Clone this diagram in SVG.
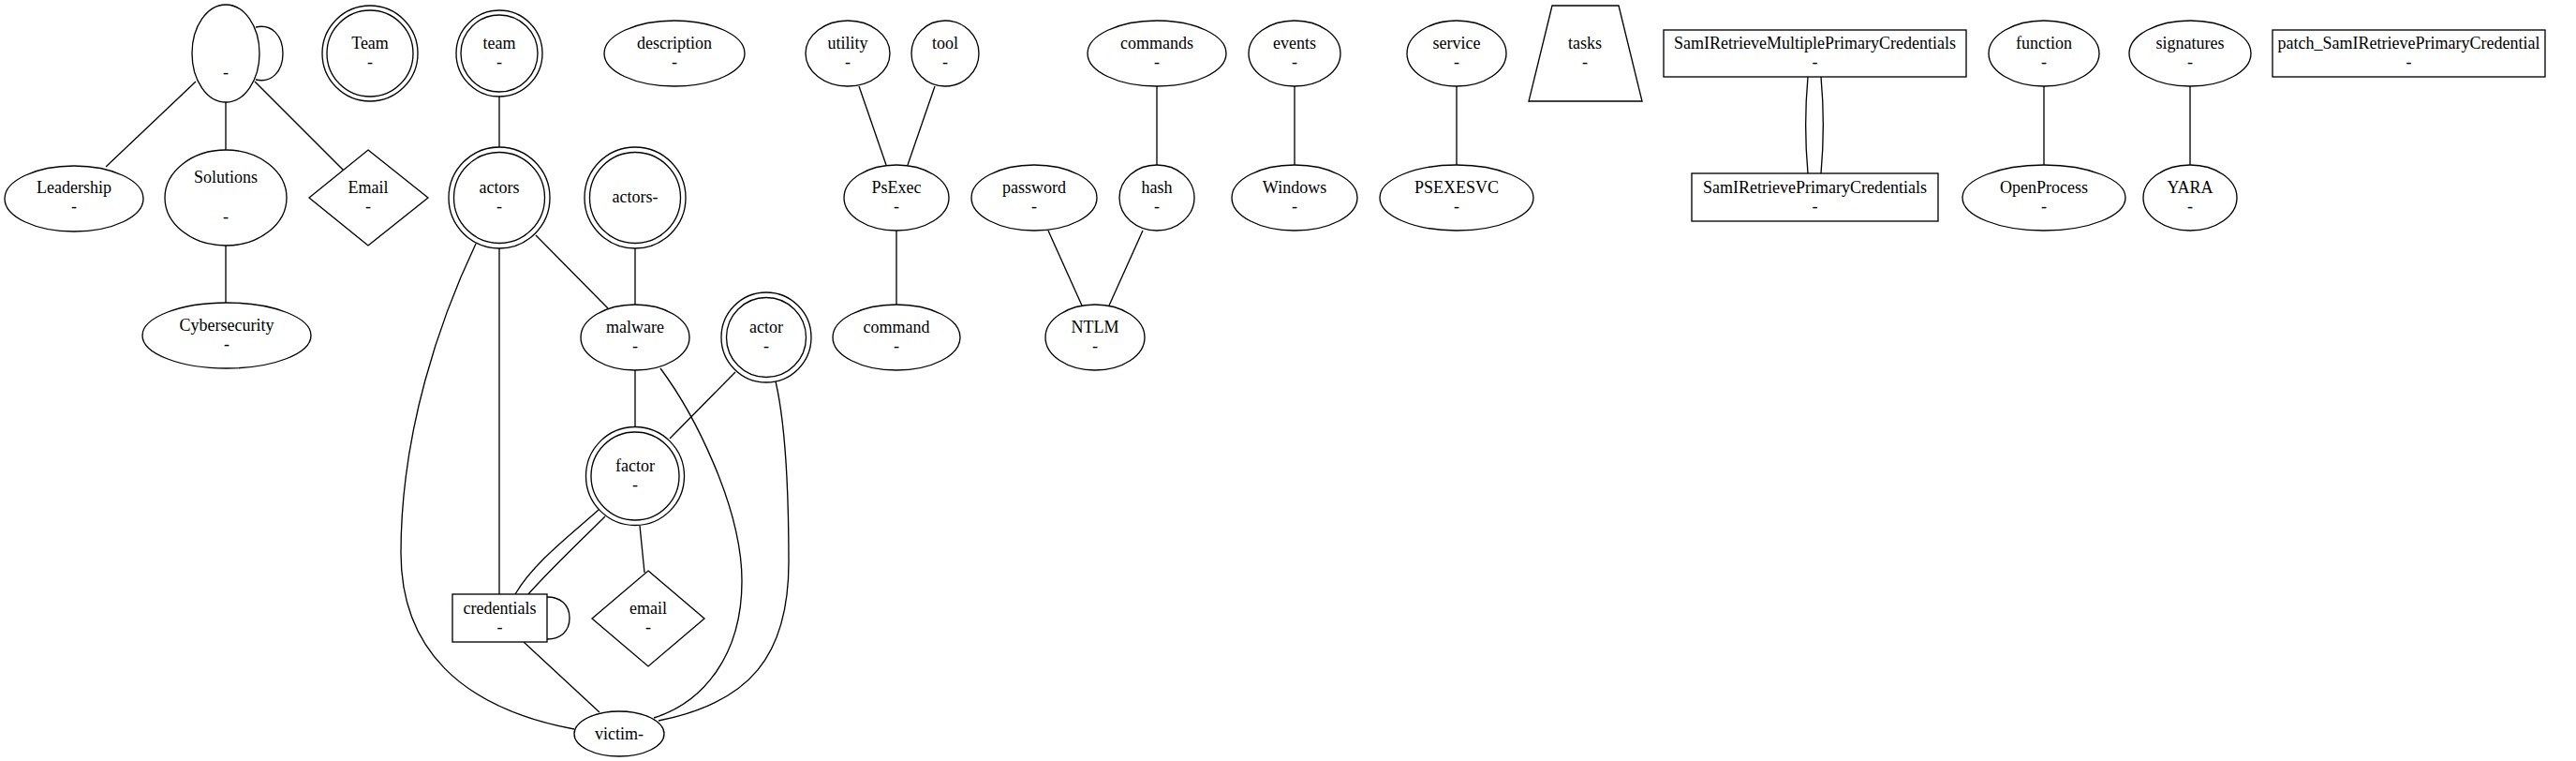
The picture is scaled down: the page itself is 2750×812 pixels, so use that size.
<svg xmlns="http://www.w3.org/2000/svg" width="2750" height="812" viewBox="0 0 2750 812">
<style>
.s{fill:none;stroke:#000;stroke-width:1.33}
.n{fill:#fff;stroke:#000;stroke-width:1.33}
text{font-family:"Liberation Serif","Times New Roman",Times,serif;font-size:18px;text-anchor:middle;fill:#000}
</style>
<rect width="2750" height="812" fill="#fff"/>
<g id="connectors">
<path class="s" d="M273,29 C290,25 302,38 302,57 C302,76 290,89 273,85"/>
<path class="s" d="M209,87 L113,178"/>
<path class="s" d="M241,109 L241,160"/>
<path class="s" d="M272,87 L367,182"/>
<path class="s" d="M241,262 L241,323"/>
<path class="s" d="M533,103 L533,157"/>
<path class="s" d="M572,251 L649,329"/>
<path class="s" d="M678,265 L678,325"/>
<path class="s" d="M533,265 L533,634"/>
<path class="s" d="M508,260 C470,340 428,460 428,590 C428,690 490,755 613,778"/>
<path class="s" d="M678,395 L678,456"/>
<path class="s" d="M785,397 L715,468"/>
<path class="s" d="M705,393 C740,440 792,540 792,620 C792,700 750,750 698,766"/>
<path class="s" d="M828,407 C838,450 842,520 842,600 C842,700 800,750 703,769"/>
<path class="s" d="M639,544 C610,570 570,600 550,634"/>
<path class="s" d="M646,551 C620,577 590,605 564,634"/>
<path class="s" d="M683,561 L688,611"/>
<path class="s" d="M559,685 L640,760"/>
<path class="s" d="M584,637 C598,637 608,645 608,659.5 C608,674 598,682 584,682"/>
<path class="s" d="M917,92 L946,176"/>
<path class="s" d="M998,92 L969,176"/>
<path class="s" d="M957,246 L957,325"/>
<path class="s" d="M1235,92 L1235,176"/>
<path class="s" d="M1119,246 L1155,326"/>
<path class="s" d="M1220,246 L1184,326"/>
<path class="s" d="M1382,92 L1382,176"/>
<path class="s" d="M1555,92 L1555,176"/>
<path class="s" d="M1930,82 C1927,115 1927,152 1930,185"/>
<path class="s" d="M1944,82 C1947,115 1947,152 1944,185"/>
<path class="s" d="M2182,92 L2182,176"/>
<path class="s" d="M2338,92 L2338,176"/>
</g>
<g id="n_dash"><ellipse class="n" cx="241" cy="57" rx="36" ry="52"/><text x="241" y="83">-</text></g>
<g id="n_leadership"><ellipse class="n" cx="79" cy="212" rx="74" ry="35"/><text x="79" y="206">Leadership</text><text x="79" y="226">-</text></g>
<g id="n_solutions"><ellipse class="n" cx="241" cy="211" rx="65" ry="51"/><text x="241" y="195">Solutions</text><text x="241" y="237">-</text></g>
<g id="n_email_top"><polygon class="n" points="393,160 457,211 393,262 330,211"/><text x="393" y="206">Email</text><text x="393" y="226">-</text></g>
<g id="n_cyber"><ellipse class="n" cx="242" cy="358" rx="90" ry="35"/><text x="242" y="353">Cybersecurity</text><text x="242" y="373">-</text></g>
<g id="n_Team"><circle class="n" cx="395" cy="57" r="51"/><circle class="s" cx="395" cy="57" r="46"/><text x="395" y="52">Team</text><text x="395" y="72">-</text></g>
<g id="n_team"><circle class="n" cx="533" cy="57" r="46"/><circle class="s" cx="533" cy="57" r="41"/><text x="533" y="52">team</text><text x="533" y="72">-</text></g>
<g id="n_description"><ellipse class="n" cx="720" cy="57" rx="75" ry="35"/><text x="720" y="52">description</text><text x="720" y="72">-</text></g>
<g id="n_actors"><circle class="n" cx="533" cy="211" r="54"/><circle class="s" cx="533" cy="211" r="48.5"/><text x="533" y="206">actors</text><text x="533" y="226">-</text></g>
<g id="n_actors2"><circle class="n" cx="678" cy="211" r="54"/><circle class="s" cx="678" cy="211" r="48.5"/><text x="678" y="216">actors-</text></g>
<g id="n_malware"><ellipse class="n" cx="678" cy="360" rx="58" ry="35"/><text x="678" y="355">malware</text><text x="678" y="375">-</text></g>
<g id="n_actor"><circle class="n" cx="818" cy="360" r="48"/><circle class="s" cx="818" cy="360" r="42.5"/><text x="818" y="355">actor</text><text x="818" y="375">-</text></g>
<g id="n_factor"><circle class="n" cx="678" cy="508" r="52.5"/><circle class="s" cx="678" cy="508" r="47"/><text x="678" y="503">factor</text><text x="678" y="523">-</text></g>
<g id="n_credentials"><rect class="n" x="483" y="634" width="101" height="51"/><text x="533.5" y="655">credentials</text><text x="533.5" y="675">-</text></g>
<g id="n_email"><polygon class="n" points="692,609 752,660 692,711 632,660"/><text x="692" y="655">email</text><text x="692" y="675">-</text></g>
<g id="n_victim"><ellipse class="n" cx="661" cy="783" rx="48" ry="24"/><text x="661" y="789">victim-</text></g>
<g id="n_utility"><ellipse class="n" cx="905" cy="57" rx="45" ry="35"/><text x="905" y="52">utility</text><text x="905" y="72">-</text></g>
<g id="n_tool"><ellipse class="n" cx="1009" cy="57" rx="36" ry="35"/><text x="1009" y="52">tool</text><text x="1009" y="72">-</text></g>
<g id="n_psexec"><ellipse class="n" cx="957" cy="211" rx="56" ry="35"/><text x="957" y="206">PsExec</text><text x="957" y="226">-</text></g>
<g id="n_command"><ellipse class="n" cx="957" cy="360" rx="68" ry="35"/><text x="957" y="355">command</text><text x="957" y="375">-</text></g>
<g id="n_password"><ellipse class="n" cx="1104" cy="211" rx="67" ry="35"/><text x="1104" y="206">password</text><text x="1104" y="226">-</text></g>
<g id="n_commands"><ellipse class="n" cx="1235" cy="57" rx="74" ry="35"/><text x="1235" y="52">commands</text><text x="1235" y="72">-</text></g>
<g id="n_hash"><ellipse class="n" cx="1235" cy="211" rx="40" ry="35"/><text x="1235" y="206">hash</text><text x="1235" y="226">-</text></g>
<g id="n_ntlm"><ellipse class="n" cx="1169" cy="360" rx="53" ry="35"/><text x="1169" y="355">NTLM</text><text x="1169" y="375">-</text></g>
<g id="n_events"><ellipse class="n" cx="1382" cy="57" rx="49" ry="35"/><text x="1382" y="52">events</text><text x="1382" y="72">-</text></g>
<g id="n_windows"><ellipse class="n" cx="1382" cy="211" rx="67" ry="35"/><text x="1382" y="206">Windows</text><text x="1382" y="226">-</text></g>
<g id="n_service"><ellipse class="n" cx="1555" cy="57" rx="53" ry="35"/><text x="1555" y="52">service</text><text x="1555" y="72">-</text></g>
<g id="n_psexesvc"><ellipse class="n" cx="1555" cy="211" rx="82" ry="35"/><text x="1555" y="206">PSEXESVC</text><text x="1555" y="226">-</text></g>
<g id="n_tasks"><polygon class="n" points="1657,6 1728,6 1753,108 1632,108"/><text x="1692" y="52">tasks</text><text x="1692" y="72">-</text></g>
<g id="n_samimulti"><rect class="n" x="1776" y="32" width="323" height="50"/><text x="1937.5" y="52">SamIRetrieveMultiplePrimaryCredentials</text><text x="1937.5" y="72">-</text></g>
<g id="n_samiprim"><rect class="n" x="1806" y="185" width="263" height="51"/><text x="1937.5" y="206">SamIRetrievePrimaryCredentials</text><text x="1937.5" y="226">-</text></g>
<g id="n_function"><ellipse class="n" cx="2182" cy="57" rx="59" ry="35"/><text x="2182" y="52">function</text><text x="2182" y="72">-</text></g>
<g id="n_openprocess"><ellipse class="n" cx="2182" cy="211" rx="87" ry="35"/><text x="2182" y="206">OpenProcess</text><text x="2182" y="226">-</text></g>
<g id="n_signatures"><ellipse class="n" cx="2338" cy="57" rx="65" ry="35"/><text x="2338" y="52">signatures</text><text x="2338" y="72">-</text></g>
<g id="n_yara"><ellipse class="n" cx="2338" cy="211" rx="50" ry="35"/><text x="2338" y="206">YARA</text><text x="2338" y="226">-</text></g>
<g id="n_patch"><rect class="n" x="2426" y="32" width="291" height="50"/><text x="2571.5" y="52">patch_SamIRetrievePrimaryCredential</text><text x="2571.5" y="72">-</text></g>
</svg>
